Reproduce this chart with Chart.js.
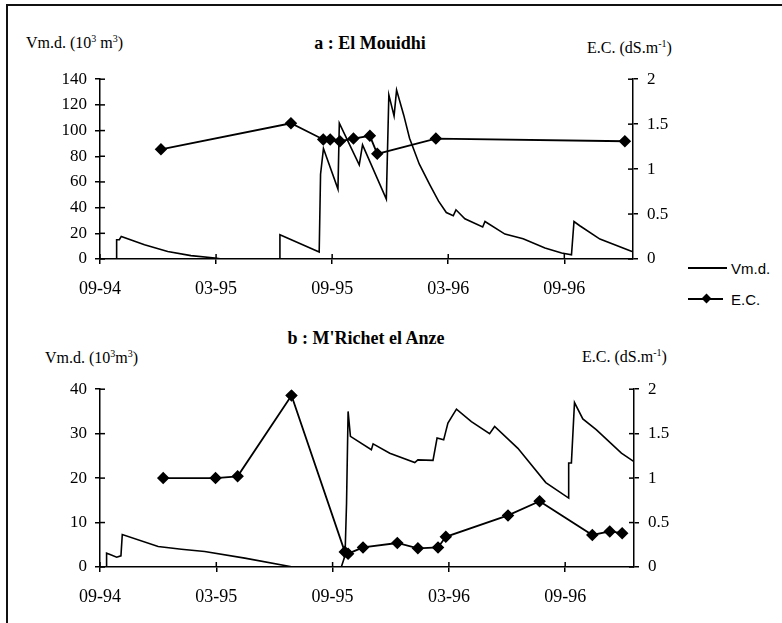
<!DOCTYPE html>
<html lang="fr">
<head>
    <meta charset="UTF-8"/>
    <title>Vm.d. et E.C. - El Mouidhi / M'Richet el Anze</title>
    <script src="https://cdn.jsdelivr.net/npm/chart.js"></script>
    <style>
        body { margin: 0; background: #fff; width: 782px; height: 623px; position: relative; overflow: hidden; font-family: 'Liberation Serif', serif; color: #000; }
        .frame { position: absolute; left: 6px; top: 4px; width: 800px; height: 640px; border-left: 2px solid #111; border-top: 2px solid #111; }
        .txt { position: absolute; line-height: 1; white-space: nowrap; font-size: 16px; }
        .title { font-weight: bold; font-size: 18px; text-align: center; width: 240px; }
        sup { font-size: 10px; vertical-align: 6px; line-height: 0; }
        canvas { position: absolute; left: 0; }
        .leg { position: absolute; font-family: 'Liberation Sans', sans-serif; font-size: 15px; line-height: 1; }
        .leg-line { position: absolute; height: 1.5px; background: #000; }
        .leg-dot { position: absolute; width: 7px; height: 7px; background: #000; transform: rotate(45deg); }
    </style>
</head>
<body>
    <div class="frame"></div>

    <div class="txt title" style="left:250px; top:34px;">a : El Mouidhi</div>
    <div class="txt" style="left:26px; top:35px;">Vm.d. (10<sup>3</sup> m<sup>3</sup>)</div>
    <div class="txt" style="left:587px; top:40px;">E.C. (dS.m<sup>-1</sup>)</div>

    <div class="txt title" style="left:246px; top:329px;">b : M'Richet el Anze</div>
    <div class="txt" style="left:45px; top:350px;">Vm.d. (10<sup>3</sup>m<sup>3</sup>)</div>
    <div class="txt" style="left:582px; top:349px;">E.C. (dS.m<sup>-1</sup>)</div>

    <div class="leg-line" style="left:688px; top:267px; width:39px;"></div>
    <div class="leg" style="left:731px; top:261px;">Vm.d.</div>
    <div class="leg-line" style="left:688px; top:298px; width:35px;"></div>
    <div class="leg-dot" style="left:703px; top:295px;"></div>
    <div class="leg" style="left:731px; top:292px;">E.C.</div>

    <canvas id="chartA" width="700" height="250" style="top:60px;"></canvas>
    <canvas id="chartB" width="700" height="245" style="top:370px;"></canvas>

    <script>
        // x values are months counted from September 1994
        const xTickMonths = [0, 6, 12, 18, 24];
        const xTickLabels = ['09-94', '03-95', '09-95', '03-96', '09-96'];
        const xMax = 27.55;

        // a : El Mouidhi
        const aVolMonths = [0, 0.86, 0.86, 1.0, 1.1, 2.3, 3.5, 4.7, 5.94, 6.3, 9.3, 9.3, 11.33, 11.4, 11.55, 12.3, 12.37, 13.4, 13.57, 14.8, 14.93, 15.2, 15.33, 15.7, 16.0, 16.5, 17.05, 17.5, 17.9, 18.26, 18.4, 18.86, 19.78, 19.9, 20.93, 21.87, 23.0, 23.86, 24.37, 24.5, 24.8, 25.84, 27.5];
        const aVol = [0, 0, 15, 15, 17.6, 11.1, 5.9, 2.6, 0.8, 0, 0, 18.9, 5.4, 66, 86, 54.4, 105.7, 73.3, 88.9, 46.6, 127.8, 111.4, 131.5, 112, 94, 74, 57.8, 45, 36.2, 33.7, 38.3, 31.3, 24.9, 29.2, 19.4, 15.8, 8.5, 4.7, 3.3, 29.2, 25.9, 15.5, 5.9];
        const aEcMonths = [3.15, 9.87, 11.54, 11.9, 12.4, 13.1, 13.95, 14.33, 17.36, 27.13];
        const aEc = [1.22, 1.51, 1.33, 1.33, 1.31, 1.34, 1.37, 1.17, 1.34, 1.31];

        // b : M'Richet el Anze
        const bVolMonths = [0, 0.34, 0.34, 0.52, 0.86, 1.08, 1.15, 3.0, 4.2, 5.4, 7.47, 9.95, 12.45, 12.6, 12.65, 12.72, 12.8, 12.92, 14.0, 14.09, 14.95, 16.24, 16.4, 17.18, 17.39, 17.73, 17.95, 18.39, 19.16, 20.1, 20.36, 21.56, 23.0, 24.18, 24.18, 24.32, 24.48, 24.91, 25.6, 26.9, 27.55];
        const bVol = [0, 0, 3.1, 2.8, 2.2, 2.5, 7.3, 4.6, 4.0, 3.5, 2.0, 0, 0, 2, 3.9, 14.4, 35, 29.4, 26.4, 27.7, 25.6, 23.5, 24.1, 24.0, 29.0, 28.6, 32.4, 35.5, 32.7, 30.0, 31.6, 26.7, 19.0, 15.5, 23.4, 23.4, 37.0, 33.3, 30.9, 25.6, 23.7];
        const bEcMonths = [3.26, 5.96, 7.1, 9.88, 12.63, 12.8, 13.57, 15.34, 16.4, 17.44, 17.84, 21.05, 22.68, 25.4, 26.3, 26.94];
        const bEc = [1.0, 1.0, 1.02, 1.93, 0.17, 0.15, 0.22, 0.27, 0.21, 0.22, 0.34, 0.58, 0.74, 0.36, 0.40, 0.38];

        const pairs = (xs, ys) => xs.map((x, i) => ({ x: x, y: ys[i] }));

        // tick marks that cross the axis line (inner half)
        const innerTicks = {
            id: 'innerTicks',
            afterDraw(chart) {
                const ctx = chart.ctx;
                ctx.save();
                ctx.strokeStyle = '#000';
                ctx.lineWidth = 1.5;
                Object.values(chart.scales).forEach(s => {
                    s.ticks.forEach(t => {
                        const p = s.getPixelForValue(t.value);
                        ctx.beginPath();
                        if (s.axis === 'x') { ctx.moveTo(p, s.top); ctx.lineTo(p, s.top - 5); }
                        else if (s.position === 'left') { ctx.moveTo(s.right, p); ctx.lineTo(s.right + 5, p); }
                        else { ctx.moveTo(s.left, p); ctx.lineTo(s.left - 5, p); }
                        ctx.stroke();
                    });
                });
                ctx.restore();
            }
        };

        const tickFont = { family: "'Liberation Serif', serif", size: 17 };
        const xTickFont = { family: "'Liberation Serif', serif", size: 18 };
        const axisGrid = { drawOnChartArea: false, drawTicks: true, tickLength: 5, color: '#000', lineWidth: 1.5 };
        const axisBorder = { color: '#000', width: 1.5 };

        function makeChart(id, volData, ecData, volMax, volStep, xHeight, rightWidth) {
            return new Chart(document.getElementById(id), {
                type: 'line',
                data: {
                    datasets: [
                        {
                            label: 'Vm.d.',
                            data: volData,
                            yAxisID: 'y',
                            borderColor: '#000',
                            borderWidth: 1.6,
                            pointRadius: 0,
                            tension: 0,
                            order: 2
                        },
                        {
                            label: 'E.C.',
                            data: ecData,
                            yAxisID: 'y2',
                            borderColor: '#000',
                            backgroundColor: '#000',
                            borderWidth: 1.8,
                            pointStyle: 'rectRot',
                            pointRadius: 5,
                            tension: 0,
                            order: 1
                        }
                    ]
                },
                options: {
                    responsive: false,
                    animation: false,
                    layout: { padding: { top: 19, left: 0, right: 0, bottom: 0 } },
                    plugins: { legend: { display: false }, tooltip: { enabled: false } },
                    scales: {
                        x: {
                            type: 'linear',
                            min: 0,
                            max: xMax,
                            afterBuildTicks: s => { s.ticks = xTickMonths.map(v => ({ value: v })); },
                            afterFit: s => { s.height = xHeight; },
                            grid: axisGrid,
                            border: axisBorder,
                            ticks: {
                                autoSkip: false,
                                maxRotation: 0,
                                color: '#000',
                                font: xTickFont,
                                padding: 14,
                                callback: (v, i) => xTickLabels[i]
                            }
                        },
                        y: {
                            position: 'left',
                            min: 0,
                            max: volMax,
                            afterFit: s => { s.width = 100; },
                            grid: axisGrid,
                            border: axisBorder,
                            ticks: { stepSize: volStep, color: '#000', font: tickFont, padding: 8 }
                        },
                        y2: {
                            position: 'right',
                            min: 0,
                            max: 2,
                            afterFit: s => { s.width = rightWidth; },
                            grid: axisGrid,
                            border: axisBorder,
                            ticks: { stepSize: 0.5, color: '#000', font: tickFont, padding: 9, callback: v => String(v) }
                        }
                    }
                },
                plugins: [innerTicks]
            });
        }

        makeChart('chartA', pairs(aVolMonths, aVol), pairs(aEcMonths, aEc), 140, 20, 51, 67);
        makeChart('chartB', pairs(bVolMonths, bVol), pairs(bEcMonths, bEc), 40, 10, 48, 66);
    </script>
</body>
</html>
